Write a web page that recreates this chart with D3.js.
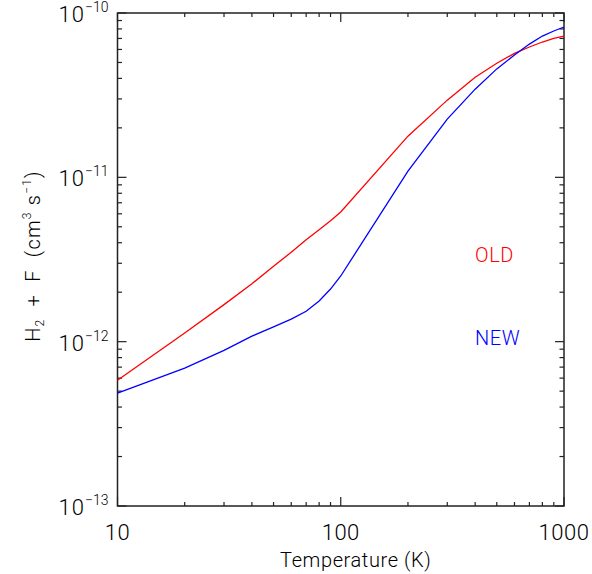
<!DOCTYPE html>
<meta charset="utf-8">
<script src="https://d3js.org/d3.v7.min.js"></script>
<style>
  body { margin: 0; background: #fff; }
  svg text { font-family: Roboto, "Liberation Sans", sans-serif; font-weight: 300; fill: #000; }
</style>
<div id="chart"></div>
<script>
// temperatures (K) and rate coefficients (cm^3 s^-1)
const temps = [10, 20, 30, 40, 50, 60, 70, 80, 90, 100, 200, 300, 400, 500, 600, 700, 800, 900, 1000];
const oldRate = [5.83e-13, 1.13e-12, 1.68e-12, 2.25e-12, 2.88e-12, 3.5e-12, 4.17e-12, 4.8e-12, 5.45e-12, 6.15e-12,
  1.78e-11, 2.95e-11, 4.07e-11, 4.95e-11, 5.68e-11, 6.21e-11, 6.66e-11, 7.0e-11, 7.24e-11];
const newRate = [4.86e-13, 6.9e-13, 8.85e-13, 1.08e-12, 1.23e-12, 1.37e-12, 1.53e-12, 1.77e-12, 2.09e-12, 2.51e-12,
  1.09e-11, 2.26e-11, 3.44e-11, 4.57e-11, 5.55e-11, 6.47e-11, 7.24e-11, 7.77e-11, 8.22e-11];
const xTicks = [10, 100, 1000];
const yTicks = [1e-13, 1e-12, 1e-11, 1e-10];
const yExp = ["\u221213", "\u221212", "\u221211", "\u221210"];

const W = 592, H = 574;
const margin = {top: 13, right: 28, bottom: 68, left: 117.5};
const width = W - margin.left - margin.right,
      height = H - margin.top - margin.bottom;

const svg = d3.select("#chart").append("svg")
  .attr("width", W).attr("height", H);
const g = svg.append("g")
  .attr("transform", `translate(${margin.left},${margin.top})`);

const x = d3.scaleLog().domain([10, 1000]).range([0, width]);
const y = d3.scaleLog().domain([1e-13, 1e-10]).range([height, 0]);

// minor + major ticks on all four sides, pointing inward
const xMinor = [];
[10, 100].forEach(d => { for (let k = 2; k <= 9; k++) xMinor.push(d * k); });
const yMinor = [];
[1e-13, 1e-12, 1e-11].forEach(d => { for (let k = 2; k <= 9; k++) yMinor.push(d * k); });

const tickCol = "#222";
function xt(vals, len) {
  g.selectAll(null).data(vals).enter().append("line")
    .attr("x1", d => x(d)).attr("x2", d => x(d))
    .attr("y1", height).attr("y2", height - len)
    .attr("stroke", tickCol).attr("stroke-width", 1.2);
  g.selectAll(null).data(vals).enter().append("line")
    .attr("x1", d => x(d)).attr("x2", d => x(d))
    .attr("y1", 0).attr("y2", len)
    .attr("stroke", tickCol).attr("stroke-width", 1.2);
}
function yt(vals, len) {
  g.selectAll(null).data(vals).enter().append("line")
    .attr("y1", d => y(d)).attr("y2", d => y(d))
    .attr("x1", 0).attr("x2", len)
    .attr("stroke", tickCol).attr("stroke-width", 1.2);
  g.selectAll(null).data(vals).enter().append("line")
    .attr("y1", d => y(d)).attr("y2", d => y(d))
    .attr("x1", width).attr("x2", width - len)
    .attr("stroke", tickCol).attr("stroke-width", 1.2);
}
xt(xMinor, 4); xt(xTicks, 9);
yt(yMinor, 4.5); yt(yTicks, 9);

g.append("rect")
  .attr("width", width).attr("height", height)
  .attr("fill", "none").attr("stroke", tickCol).attr("stroke-width", 1.5);

// tick labels
g.selectAll(null).data(xTicks).enter().append("text")
  .attr("x", d => x(d)).attr("y", height + 34)
  .attr("text-anchor", "middle").attr("font-size", 22)
  .attr("letter-spacing", 0.5)
  .text(d => d);

const yl = g.selectAll(null).data(yTicks).enter().append("text")
  .attr("x", -9).attr("y", d => y(d) + 9)
  .attr("text-anchor", "end").attr("font-size", 22);
yl.append("tspan").attr("letter-spacing", 1).text("10");
yl.append("tspan").attr("dy", -10).attr("font-size", 14).text((d, i) => yExp[i]);

// axis titles
svg.append("text")
  .attr("x", margin.left + width / 2 + 15).attr("y", 567)
  .attr("text-anchor", "middle").attr("font-size", 20)
  .attr("letter-spacing", 0.6)
  .text("Temperature (K)");

const yt2 = svg.append("text")
  .attr("transform", "translate(40,256) rotate(-90)")
  .attr("text-anchor", "middle").attr("font-size", 20)
  .attr("letter-spacing", 1.2);
yt2.append("tspan").text("H");
yt2.append("tspan").attr("font-size", 12).attr("dy", 4).text("2");
yt2.append("tspan").attr("dy", -4).text("\u00a0\u00a0+\u00a0\u00a0F\u00a0\u00a0(cm");
yt2.append("tspan").attr("font-size", 12).attr("dy", -9).text("3");
yt2.append("tspan").attr("dy", 9).text("\u00a0s");
yt2.append("tspan").attr("font-size", 12).attr("dy", -9).text("\u22121");
yt2.append("tspan").attr("dy", 9).text(")");

// curves
const line = d3.line().x((d, i) => x(temps[i])).y(d => y(d));
g.append("path").datum(oldRate).attr("d", line)
  .attr("fill", "none").attr("stroke", "#ff0000").attr("stroke-width", 1.3);
g.append("path").datum(newRate).attr("d", line)
  .attr("fill", "none").attr("stroke", "#0000ff").attr("stroke-width", 1.3);

// labels
svg.append("text").attr("x", 475).attr("y", 262)
  .attr("font-size", 20).attr("letter-spacing", 0.6).style("fill", "#ff0000").text("OLD");
svg.append("text").attr("x", 475).attr("y", 345)
  .attr("font-size", 20).attr("letter-spacing", 0.6).style("fill", "#0000ff").text("NEW");
</script>
